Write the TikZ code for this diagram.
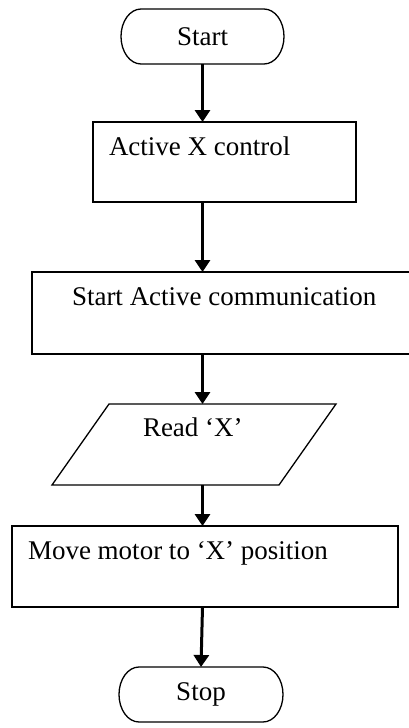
\documentclass[tikz,border=0pt]{standalone}
\usepackage{fontspec}
\setmainfont{Liberation Serif}
\usetikzlibrary{arrows.meta}

\begin{document}
\begin{tikzpicture}[x=1pt, y=1pt,
    every node/.style={inner sep=0pt, outer sep=0pt},
    shapeline/.style={line width=1.3pt},
    procbox/.style={rectangle, draw, shapeline},
    frame/.style={rectangle, minimum width=#1},
    label/.style={anchor=base west, font=\fontsize{27}{32}\selectfont},
    flow/.style={line width=3pt, -{Triangle[width=15pt, length=12pt]}}
  ]
  \clip (0,0) rectangle (409,-728);

  % terminal frames (outlines drawn below with elliptic ends)
  \node[frame=163pt, minimum height=55pt] (start) at (202.5,-36.5) {};
  \node[frame=164pt, minimum height=55pt] (stop)  at (201,-694.5) {};

  % process boxes
  \node[procbox, minimum width=263pt, minimum height=80pt] (ctrl) at (224.5,-162) {};
  \node[procbox, minimum width=383pt, minimum height=82pt] (comm) at (223.5,-313) {};
  \node[procbox, minimum width=386pt, minimum height=81pt] (move) at (205,-566.5) {};

  % input parallelogram frame
  \node[frame=284pt, minimum height=81pt] (read) at (194,-444.5) {};

  % outlines of the terminals
  \foreach \t in {start,stop}{
    \draw[shapeline]
      ([xshift=20pt]\t.north west) -- ([xshift=-20pt]\t.north east)
      arc[start angle=90, end angle=-90, x radius=20pt, y radius=27.5pt]
      -- ([xshift=20pt]\t.south west)
      arc[start angle=270, end angle=90, x radius=20pt, y radius=27.5pt]
      -- cycle;
  }

  % outline of the input parallelogram
  \draw[shapeline]
    (read.south west) -- ([xshift=-57pt]read.south east)
    -- (read.north east) -- ([xshift=57pt]read.north west) -- cycle;

  % texts
  \node[font=\fontsize{27}{32}\selectfont] (tstart) at (start) {Start};
  \node[font=\fontsize{27}{32}\selectfont] (tstop)  at (stop)  {Stop};
  \node[label] (tctrl) at (109,-155) {Active X control};
  \node[label] (tcomm) at (72,-305)  {Start Active communication};
  \node[label] (tread) at (143,-436) {Read ‘X’};
  \node[label] (tmove) at (28,-559)  {Move motor to ‘X’ position};

  % connectors, all on the vertical axis through the start terminal
  \draw[flow] (start.south) -- (ctrl.north -| start.south);
  \draw[flow] (ctrl.south -| start.south) -- (comm.north -| start.south);
  \draw[flow] (comm.south -| start.south) -- (read.north -| start.south);
  \draw[flow] (read.south -| start.south) -- (move.north -| start.south);
  \draw[flow] (move.south -| start.south) -- (stop.north);
\end{tikzpicture}
\end{document}
